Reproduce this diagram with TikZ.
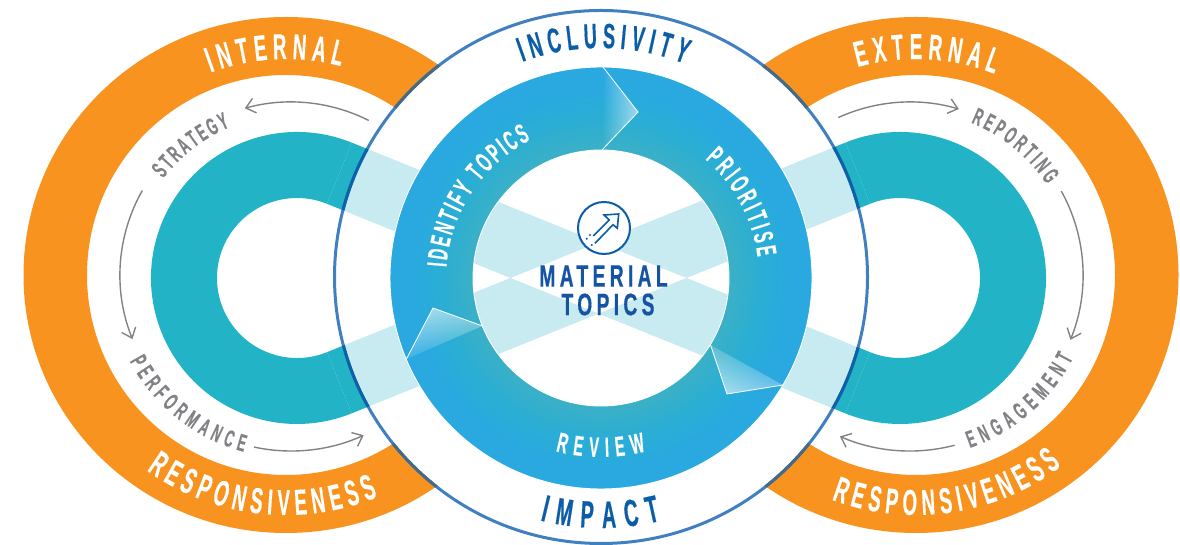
\documentclass[tikz,border=0pt]{standalone}
\usepackage{fontspec}
\usetikzlibrary{arrows.meta,calc,decorations.text,fadings}
\newfontfamily\capsfont{Liberation Sans}[FakeStretch=0.52,FakeBold=0.4]
\newfontfamily\headfont{Liberation Sans}[FakeStretch=0.62,FakeBold=0.5,LetterSpace=14]
\definecolor{bandorange}{HTML}{F7931E}
\definecolor{loopteal}{HTML}{22B4C6}
\definecolor{loopicy}{HTML}{C7EBF0}
\definecolor{ringin}{HTML}{3BB0C6}
\definecolor{ringmid}{HTML}{2AAED4}
\definecolor{ringout}{HTML}{29A9E0}
\definecolor{rimblue}{HTML}{4080C0}
\definecolor{rimonteal}{HTML}{0C62A8}
\definecolor{rimonorange}{HTML}{466A85}
\definecolor{wordblue}{HTML}{0B5DA8}
\definecolor{headblue}{HTML}{1553A4}
\definecolor{labelgrey}{HTML}{808285}
\pgfdeclareradialshading{ringshade}{\pgfpoint{0bp}{0bp}}{color(0bp)=(ringin); color(15.2bp)=(ringin); color(19bp)=(ringmid); color(22.5bp)=(ringout); color(50bp)=(ringout)}
\tikzfading[name=fadetip, left color=transparent!100, right color=transparent!45]
\newcommand{\bandtext}{\capsfont\bfseries\fontsize{36}{36}\selectfont\color{white}}
\newcommand{\greytext}{\capsfont\bfseries\fontsize{24}{24}\selectfont\color{labelgrey}}
\newcommand{\rimtext}{\capsfont\bfseries\fontsize{35}{35}\selectfont\color{wordblue}}
\newcommand{\impacttext}{\capsfont\bfseries\fontsize{38}{38}\selectfont\color{wordblue}}
\newcommand{\stagetext}{\capsfont\bfseries\fontsize{28}{28}\selectfont\color{white}}
\tikzset{
	cycle arrow/.style={draw=labelgrey, line width=1.4pt, -{Straight Barb[length=9pt,width=15pt]}},
	chevron line/.style={draw=white, line width=0.8pt},
	headline/.style={text=headblue, font=\headfont\bfseries\fontsize{31}{31}\selectfont, inner sep=0pt},
}
\begin{document}
\begin{tikzpicture}[x=1pt,y=1pt]
	\useasboundingbox (0,0) rectangle (1180,545);
	\coordinate (cc) at (601,267);
	\coordinate (lt) at (297,267);
	\coordinate (rt) at (900,267);
	% orange outer bands
	\def\bandrings {
		(286,270) ellipse [x radius=262.5, y radius=258] (286,270) ellipse [x radius=199, y radius=200]
		(916,270) ellipse [x radius=262.5, y radius=258] (916,270) ellipse [x radius=199, y radius=200]
	}
	\fill[bandorange, even odd rule] \bandrings;
	% teal loops, left one and right one
	\fill[loopteal] ($(lt)+(68:146)$) arc[start angle=68, end angle=292, radius=146]
		-- ($(lt)+(292:80)$) arc[start angle=292, end angle=68, radius=80] -- cycle;
	\fill[loopteal] ($(rt)+(112:146)$) arc[start angle=112, end angle=-112, radius=146]
		-- ($(rt)+(-112:80)$) arc[start angle=-112, end angle=112, radius=80] -- cycle;
	% the two crossing bars
	\def\crossbars {
		($(lt)+(68:146)$) -- ($(rt)+(248:80)$) -- ($(rt)+(248:146)$) -- ($(lt)+(68:80)$) -- cycle
		($(lt)+(292:146)$) -- ($(rt)+(112:80)$) -- ($(rt)+(112:146)$) -- ($(lt)+(292:80)$) -- cycle
	}
	\fill[loopteal] \crossbars;
	% white disc on top, bars turn pale inside of it
	\fill[white] (601,268) circle (265);
	\begin{scope}
		\clip (601,268) circle (265);
		\fill[loopicy] \crossbars;
	\end{scope}
	% rim of the disc, darker where it runs over a colour
	\draw[rimblue, line width=3pt] (601,268) circle (266.5);
	\begin{scope}
		\clip \crossbars;
		\draw[rimonteal, line width=3pt] (601,268) circle (266.5);
	\end{scope}
	\begin{scope}[even odd rule]
		\clip \bandrings;
		\draw[rimonorange, line width=3pt] (601,268) circle (266.5);
	\end{scope}
	% blue ring
	\shade[shading=ringshade, even odd rule] (cc) circle (211) (cc) circle (128);
	\draw[white, line width=0.9pt] (cc) circle (211) (cc) circle (128);
	% chevrons of the ring, tip/base/base/fading angle
	\def\chevrons {603/478/638/433/602/395/0, 710.5/200/727/151/783/160/237, 406.4/186/433/237/482.5/219/108}
	\foreach \ax/\ay/\tx/\ty/\bx/\by/\ang in \chevrons{
		\fill[white, path fading=fadetip, fading angle=\ang] (\ax,\ay) -- (\tx,\ty) -- (\bx,\by) -- cycle;
		\draw[chevron line] (\ax,\ay) -- (\tx,\ty) -- (\bx,\by);
	}
	% curved words
	\def\arclabels {
		INTERNAL/286/270/216/110.4/75.3/\bandtext,
		EXTERNAL/916/270/216/105.7/68.7/\bandtext,
		RESPONSIVENESS/286/270/240/234.5/292.5/\bandtext,
		RESPONSIVENESS/916/270/240/249.4/307.3/\bandtext,
		STRATEGY/291/270/160/143/112.4/\greytext,
		PERFORMANCE/291/270/183/208.1/255/\greytext,
		REPORTING/910/270/164/68.2/33.5/\greytext,
		ENGAGEMENT/910/270/183/289.1/333/\greytext,
		INCLUSIVITY/601/267/230/110/68.7/\rimtext,
		IMPACT/601/267/250/255.9/283.8/\impacttext,
		IDENTIFY TOPICS/601/267/155/176/117/\stagetext,
		PRIORITISE/601/267/158/48.8/7.6/\stagetext,
		REVIEW/601/267/179/255.3/284.5/\stagetext}
	\foreach \word/\cx/\cy/\rad/\from/\to/\fmt in \arclabels{
		\path[decorate, decoration={text along path, text/.expanded={|\expandafter\noexpand\fmt|\word}, text align={fit to path}}]
			(\cx,\cy) ++(\from:\rad) arc[start angle=\from, end angle=\to, radius=\rad];
	}
	% grey arrows
	\def\cyclearcs {291/173/63.3/105.5, 291/171/150.4/202, 291/176/257.9/294.4, 910/173/114.5/73.6, 910/173/29/-22, 910/176/284.7/246.5}
	\foreach \cx/\rad/\from/\to in \cyclearcs{
		\draw[cycle arrow] (\cx,270) ++(\from:\rad) arc[start angle=\from, end angle=\to, radius=\rad];
	}
	% middle: icon and title
	\node[draw=wordblue, fill=white, circle, line width=2pt, minimum size=52pt, inner sep=0pt] (iconring) at (604,317) {};
	\draw[wordblue, line width=1.6pt] (595,301.7) -- (613,320.3) -- (617.3,316.7) -- (618.7,331) -- (604,330) -- (609.3,325) -- (593.3,309);
	\foreach \x/\y in {590/310, 586.7/306.3, 591.7/300}{
		\fill[wordblue] (\x,\y) circle (1.1);
	}
	\node[headline] (material) at (603.5,269) {MATERIAL};
	\node[headline] (topics) at (608,240.5) {TOPICS};
\end{tikzpicture}
\end{document}
